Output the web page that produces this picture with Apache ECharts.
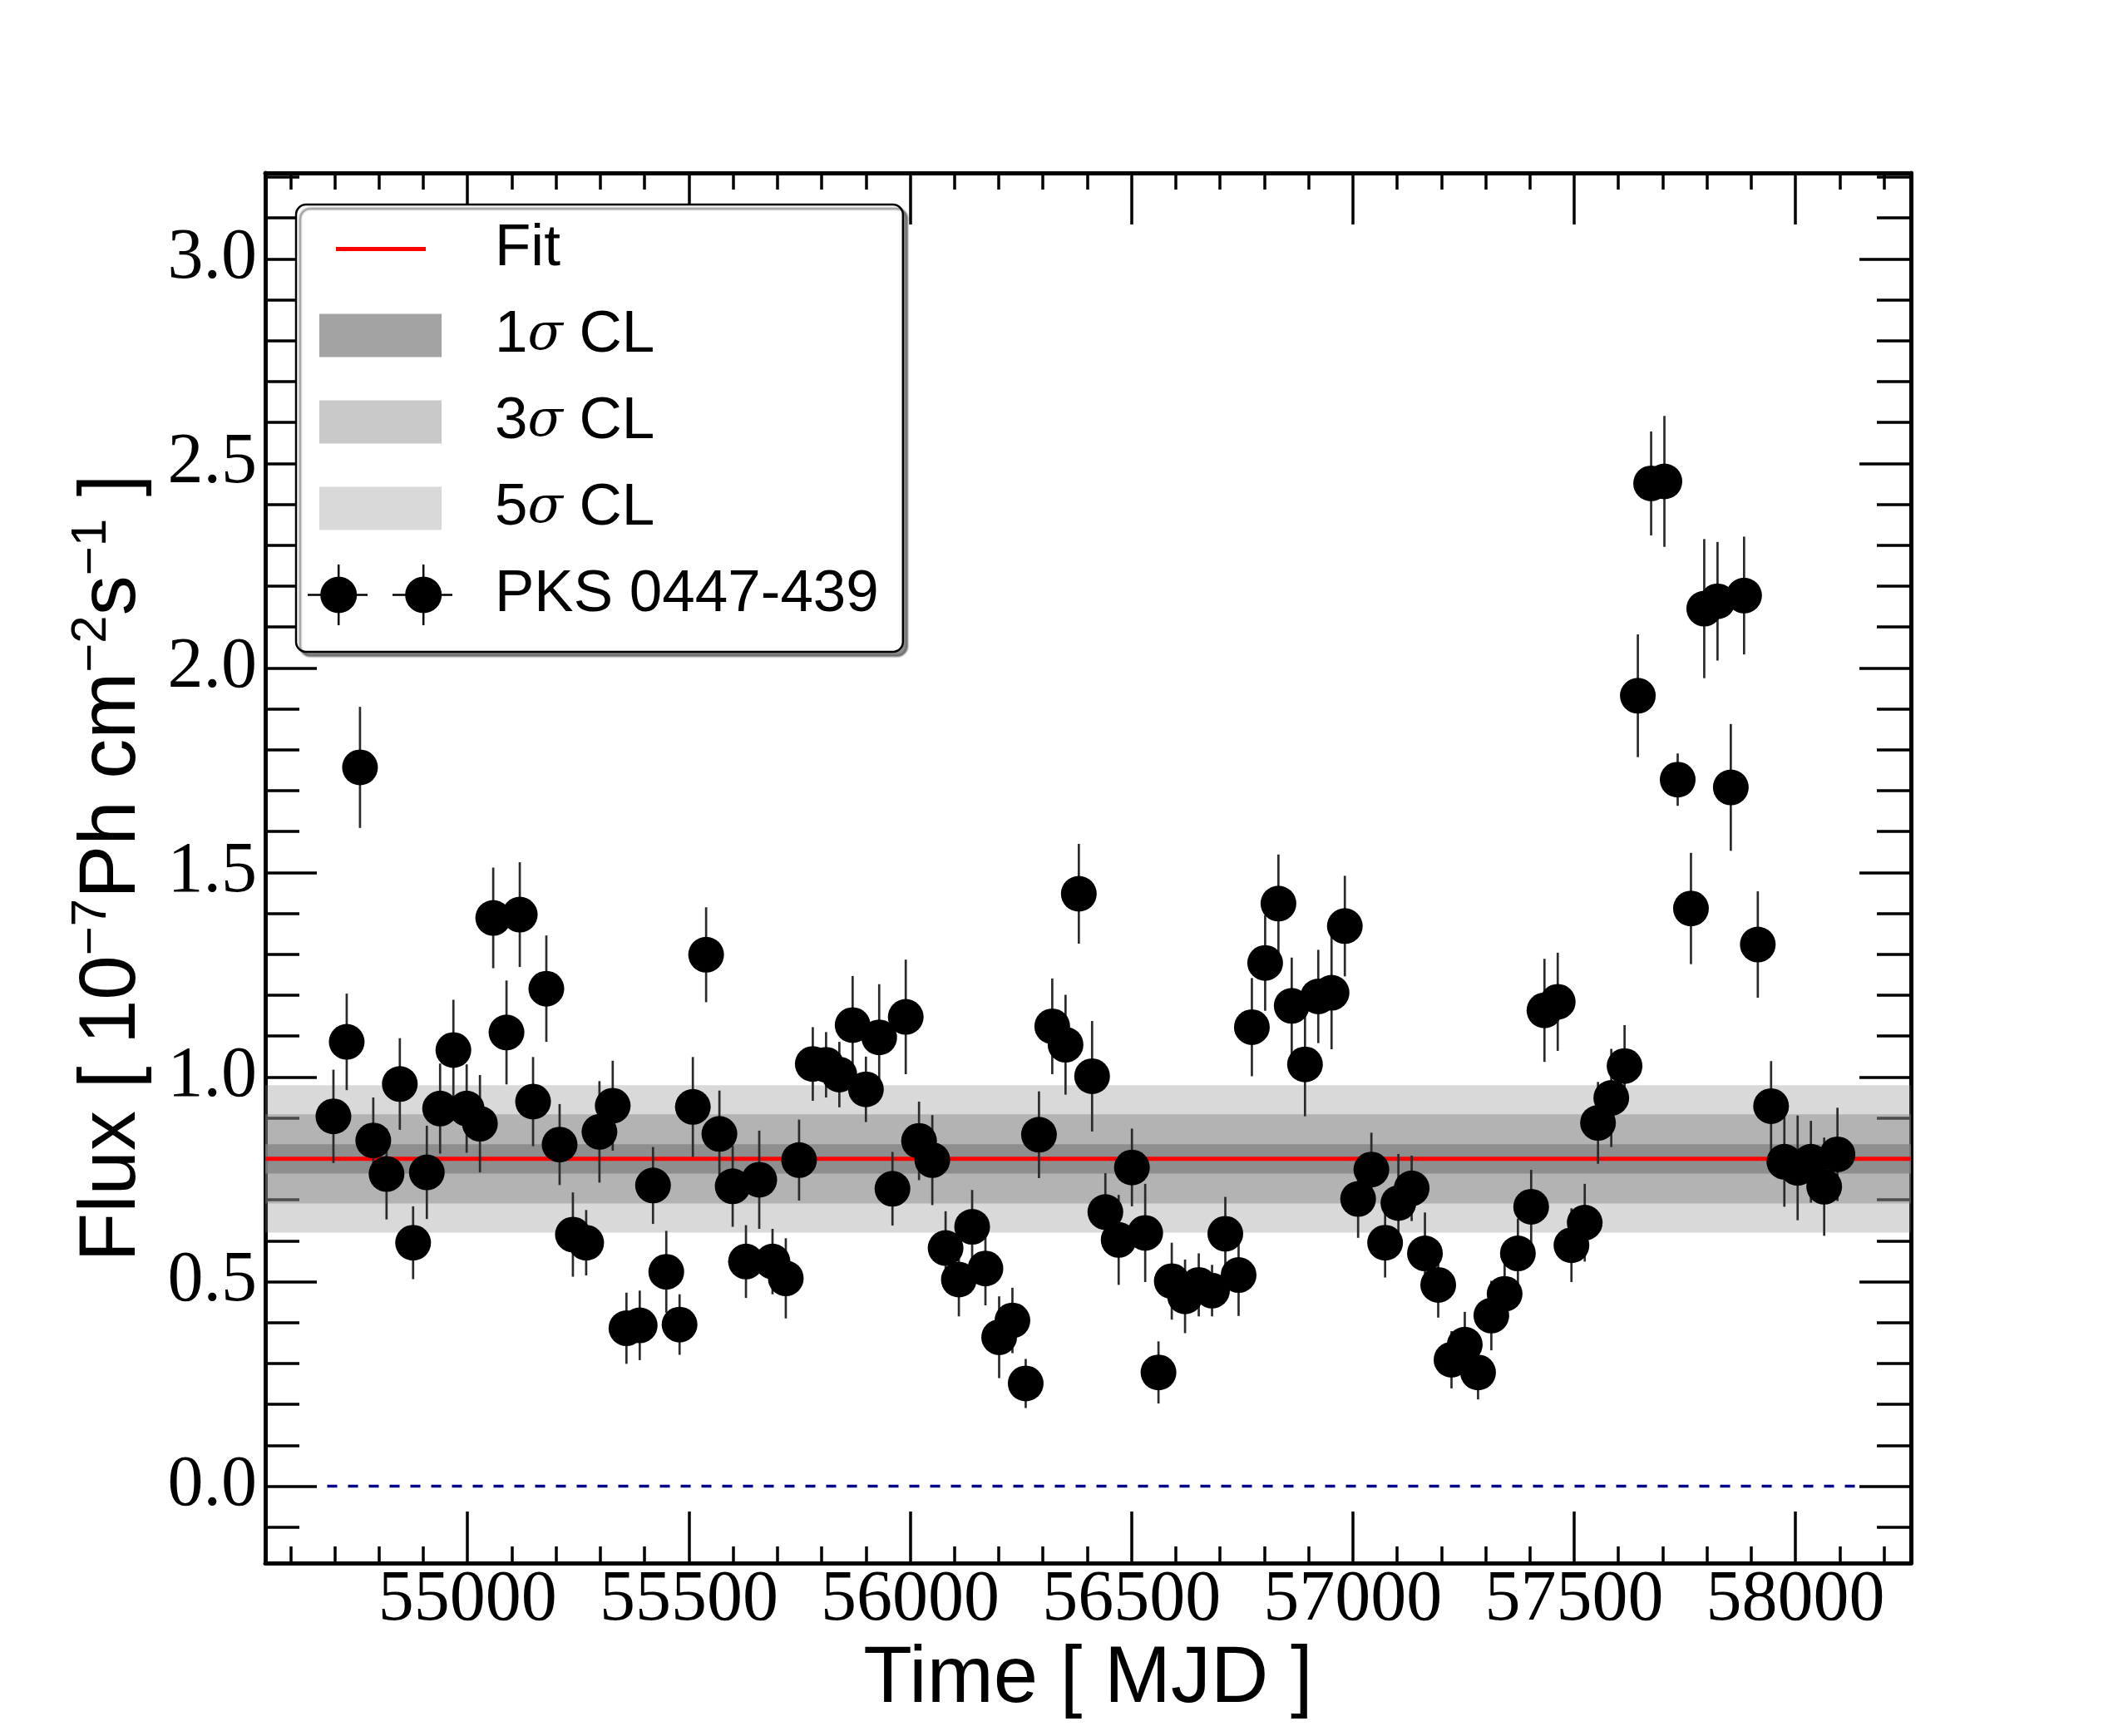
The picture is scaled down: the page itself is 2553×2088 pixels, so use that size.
<!DOCTYPE html>
<html lang="en">
<head>
    <meta charset="UTF-8">
    <title>PKS 0447-439 light curve</title>
    <script src="https://cdn.jsdelivr.net/npm/echarts@6/dist/echarts.min.js"></script>
</head>
<style>
    *{
        margin: 0px;
    }
    body{
        background: #ffffff;
    }
    #main{
        width: 2553px;
        height: 2088px;
    }
</style>
<body>
<div id="main"></div>
<script type="text/javascript">
    // bin centres [MJD]
    var time = [
        54697,54727,54757,54787,54817,54847,54877,54908,54938,54968,
        54998,55028,55058,55088,55118,55148,55178,55208,55238,55268,
        55298,55328,55359,55389,55419,55449,55479,55509,55539,55569,
        55599,55629,55659,55689,55719,55749,55780,55810,55840,55870,
        55900,55930,55960,55990,56020,56050,56080,56110,56140,56170,
        56201,56231,56261,56291,56321,56351,56381,56411,56441,56471,
        56501,56531,56561,56591,56621,56652,56682,56712,56742,56772,
        56802,56832,56862,56892,56922,56952,56982,57012,57042,57073,
        57103,57133,57163,57193,57223,57253,57283,57313,57343,57373,
        57403,57433,57463,57494,57524,57554,57584,57614,57644,57674,
        57704,57734,57764,57794,57824,57854,57884,57915,57945,57975,
        58005,58035,58065,58095
    ];
    // flux [1e-7 ph cm-2 s-1]
    var flux = [
        0.904,1.086,1.757,0.845,0.763,0.983,0.595,0.767,0.923,1.066,
        0.923,0.886,1.389,1.109,1.397,0.940,1.216,0.835,0.615,0.595,
        0.866,0.930,0.386,0.393,0.735,0.524,0.395,0.927,1.299,0.861,
        0.733,0.549,0.749,0.549,0.508,0.797,1.032,1.030,1.006,1.127,
        0.970,1.097,0.727,1.147,0.844,0.797,0.582,0.505,0.634,0.532,
        0.364,0.405,0.251,0.859,1.124,1.079,1.448,1.002,0.670,0.602,
        0.779,0.619,0.278,0.501,0.464,0.492,0.478,0.617,0.516,1.122,
        1.279,1.424,1.174,1.031,1.197,1.206,1.369,0.702,0.774,0.595,
        0.692,0.728,0.569,0.492,0.309,0.346,0.278,0.417,0.470,0.569,
        0.683,1.163,1.184,0.589,0.644,0.888,0.949,1.027,1.932,2.451,
        2.456,1.727,1.412,2.145,2.163,1.708,2.177,1.324,0.929,0.793,
        0.778,0.793,0.732,0.811
    ];
    // 1 sigma errors
    var fluxErr = [
        0.114,0.118,0.148,0.105,0.111,0.112,0.089,0.114,0.110,0.123,
        0.108,0.119,0.123,0.127,0.128,0.109,0.130,0.099,0.103,0.080,
        0.124,0.110,0.087,0.085,0.094,0.100,0.074,0.122,0.116,0.106,
        0.099,0.089,0.120,0.080,0.098,0.099,0.090,0.080,0.080,0.120,
        0.080,0.130,0.090,0.140,0.096,0.110,0.090,0.090,0.090,0.090,
        0.100,0.080,0.060,0.106,0.117,0.122,0.122,0.135,0.095,0.110,
        0.095,0.120,0.076,0.094,0.090,0.077,0.063,0.090,0.100,0.120,
        0.117,0.120,0.118,0.127,0.114,0.138,0.123,0.095,0.090,0.085,
        0.120,0.080,0.100,0.080,0.070,0.080,0.066,0.085,0.075,0.085,
        0.090,0.126,0.120,0.090,0.095,0.100,0.120,0.100,0.150,0.127,
        0.160,0.064,0.136,0.170,0.145,0.155,0.144,0.130,0.110,0.110,
        0.128,0.100,0.120,0.114
    ];

    // constant fit and its confidence bands
    var fitValue = 0.80;
    var band1 = [0.764, 0.836];
    var band3 = [0.691, 0.909];
    var band5 = [0.620, 0.980];
    var zeroLineX = [54683, 58137];

    // axes
    var xRange = [54543, 58261];
    var yRange = [-0.188, 3.21];
    var xMajorTicks = [55000, 55500, 56000, 56500, 57000, 57500, 58000];
    var xMinorTicks = [54600,54700,54800,54900,55100,55200,55300,55400,55600,55700,55800,55900,
        56100,56200,56300,56400,56600,56700,56800,56900,57100,57200,57300,57400,
        57600,57700,57800,57900,58100,58200];
    var yMajorTicks = [0, 0.5, 1.0, 1.5, 2.0, 2.5, 3.0];
    var yMinorTicks = [-0.1,0.1,0.2,0.3,0.4,0.6,0.7,0.8,0.9,1.1,1.2,1.3,1.4,1.6,1.7,1.8,1.9,
        2.1,2.2,2.3,2.4,2.6,2.7,2.8,2.9,3.1,3.2];

    var points = [];
    for (var i = 0; i < time.length; i++) {
        points.push([time[i], flux[i], fluxErr[i]]);
    }

    var serif = 'Liberation Serif';
    var sans = 'Liberation Sans';

    // one axis = frame side + one set of inward ticks
    function makeAxis(pos, range, ticks, len, showLine) {
        return {
            type: 'value',
            position: pos,
            min: range[0],
            max: range[1],
            axisLine: {show: showLine, onZero: false, lineStyle: {color: '#000', width: 5}},
            axisTick: {show: true, inside: true, length: len, customValues: ticks,
                lineStyle: {color: '#000', width: 3.5}},
            axisLabel: {show: false},
            splitLine: {show: false},
            minorTick: {show: false}
        };
    }

    var xMain = makeAxis('bottom', xRange, xMajorTicks, 62, true);
    xMain.axisLabel = {show: true, customValues: xMajorTicks, margin: 2,
        fontFamily: serif, fontSize: 86, color: '#000',
        formatter: function (v) { return String(v); }};
    xMain.name = 'Time [ MJD ]';
    xMain.nameLocation = 'middle';
    xMain.nameGap = 82;
    xMain.nameTextStyle = {fontFamily: sans, fontSize: 96, color: '#000'};

    var yMain = makeAxis('left', yRange, yMajorTicks, 62, true);
    yMain.axisLabel = {show: true, customValues: yMajorTicks, margin: 10,
        fontFamily: serif, fontSize: 86, color: '#000',
        formatter: function (v) { return v.toFixed(1); }};
    yMain.name = 'Flux [ 10{s|\u22127}Ph cm{s|\u22122}s{s|\u22121} ]';
    yMain.nameLocation = 'middle';
    yMain.nameGap = 128;
    yMain.nameRotate = 90;
    yMain.nameTextStyle = {fontFamily: sans, fontSize: 96, lineHeight: 110, color: '#000',
        rich: {s: {fontFamily: sans, fontSize: 60, lineHeight: 60, verticalAlign: 'top', color: '#000'}}};

    // legend icons, drawn in a 174 x 73 box
    var fitIcon = 'path://M0,0 M174,73 M34,34 h108 v5 h-108 z';
    var patchIcon = 'path://M0,0 M174,73 M14,10.5 h147 v52 h-147 z';
    var pointIcon = 'path://M0,0 M174,73 ' +
        'M0,35.25 h15.5 v2.5 h-15.5 z M58.9,35.25 h13.1 v2.5 h-13.1 z ' +
        'M35.95,0 h2.5 v14.8 h-2.5 z M35.95,58.2 h2.5 v14.8 h-2.5 z ' +
        'M15.2,36.5 A22,22 0 1,1 59.2,36.5 A22,22 0 1,1 15.2,36.5 z ' +
        'M102,35.25 h15.5 v2.5 h-15.5 z M160.9,35.25 h13.1 v2.5 h-13.1 z ' +
        'M137.95,0 h2.5 v14.8 h-2.5 z M137.95,58.2 h2.5 v14.8 h-2.5 z ' +
        'M117.2,36.5 A22,22 0 1,1 161.2,36.5 A22,22 0 1,1 117.2,36.5 z';

    function bandItem(params, api) {
        var p0 = api.coord([api.value(0), api.value(3)]);
        var p1 = api.coord([api.value(2), api.value(1)]);
        return {
            type: 'rect',
            shape: {x: p0[0], y: p0[1], width: p1[0] - p0[0], height: p1[1] - p0[1]},
            style: {fill: api.visual('color')}
        };
    }

    function errItem(params, api) {
        var x = api.value(0), y = api.value(1), e = api.value(2);
        var lo = api.coord([x, y - e]);
        var hi = api.coord([x, y + e]);
        return {
            type: 'line',
            shape: {x1: lo[0], y1: lo[1], x2: hi[0], y2: hi[1]},
            style: {stroke: '#2b2b2b', lineWidth: 2.7}
        };
    }

    function band(name, b, color, z) {
        return {
            name: name, type: 'custom', renderItem: bandItem,
            data: [[xRange[0], b[0], xRange[1], b[1]]],
            encode: {x: [0, 2], y: [1, 3]},
            itemStyle: {color: color}, z: z, silent: true
        };
    }

    var myChart = echarts.init(document.getElementById('main'), null, {renderer: 'canvas'});
    var option = {
        animation: false,
        backgroundColor: '#ffffff',
        grid: {left: 319, right: 255, top: 208, bottom: 208, containLabel: false, outerBoundsMode: 'none'},
        xAxis: [
            xMain,
            makeAxis('bottom', xRange, xMinorTicks, 20, false),
            makeAxis('top', xRange, xMajorTicks, 62, true),
            makeAxis('top', xRange, xMinorTicks, 20, false)
        ],
        yAxis: [
            yMain,
            makeAxis('left', yRange, yMinorTicks, 41, false),
            makeAxis('right', yRange, yMajorTicks, 62, true),
            makeAxis('right', yRange, yMinorTicks, 41, false)
        ],
        legend: {
            orient: 'vertical',
            left: 356,
            top: 246,
            padding: [17, 29, 32, 14],
            itemWidth: 174,
            itemHeight: 73,
            itemGap: 31,
            symbolKeepAspect: false,
            selectedMode: false,
            backgroundColor: '#ffffff',
            borderColor: '#000',
            borderWidth: 2.5,
            borderRadius: 12,
            shadowColor: 'rgba(0,0,0,0.45)',
            shadowBlur: 2,
            shadowOffsetX: 5,
            shadowOffsetY: 5,
            itemStyle: {borderWidth: 0},
            textStyle: {fontFamily: sans, fontSize: 71, lineHeight: 73, color: '#000',
                padding: [0, 0, 0, 46],
                rich: {s: {fontFamily: 'DejaVu Serif', fontStyle: 'italic', fontSize: 62, color: '#000'}}},
            formatter: function (name) { return name.replace('\u03c3', '{s|\u03c3}'); },
            data: [
                {name: 'Fit', icon: fitIcon},
                {name: '1\u03c3 CL', icon: patchIcon},
                {name: '3\u03c3 CL', icon: patchIcon},
                {name: '5\u03c3 CL', icon: patchIcon},
                {name: 'PKS 0447-439', icon: pointIcon}
            ],
            z: 20
        },
        series: [
            band('5\u03c3 CL', band5, 'rgba(128,128,128,0.30)', 1),
            band('3\u03c3 CL', band3, 'rgba(128,128,128,0.425)', 1),
            band('1\u03c3 CL', band1, 'rgba(128,128,128,0.724)', 1),
            {
                name: 'Fit', type: 'line',
                data: [[xRange[0], fitValue], [xRange[1], fitValue]],
                symbol: 'none', color: '#ff0000',
                lineStyle: {color: '#ff0000', width: 5}, z: 3, silent: true
            },
            {
                name: 'zero', type: 'line',
                data: [[zeroLineX[0], 0], [zeroLineX[1], 0]],
                symbol: 'none', color: '#00008b',
                lineStyle: {color: '#00008b', width: 3.5, type: [12, 13]}, z: 3, silent: true
            },
            {
                name: 'errors', type: 'custom', renderItem: errItem,
                data: points, encode: {x: 0, y: 1}, z: 5, silent: true
            },
            {
                name: 'PKS 0447-439', type: 'scatter',
                data: points, encode: {x: 0, y: 1},
                symbol: 'circle', symbolSize: 43,
                itemStyle: {color: '#000', opacity: 1}, z: 6
            }
        ]
    };
    myChart.setOption(option);
</script>
</body>
</html>
